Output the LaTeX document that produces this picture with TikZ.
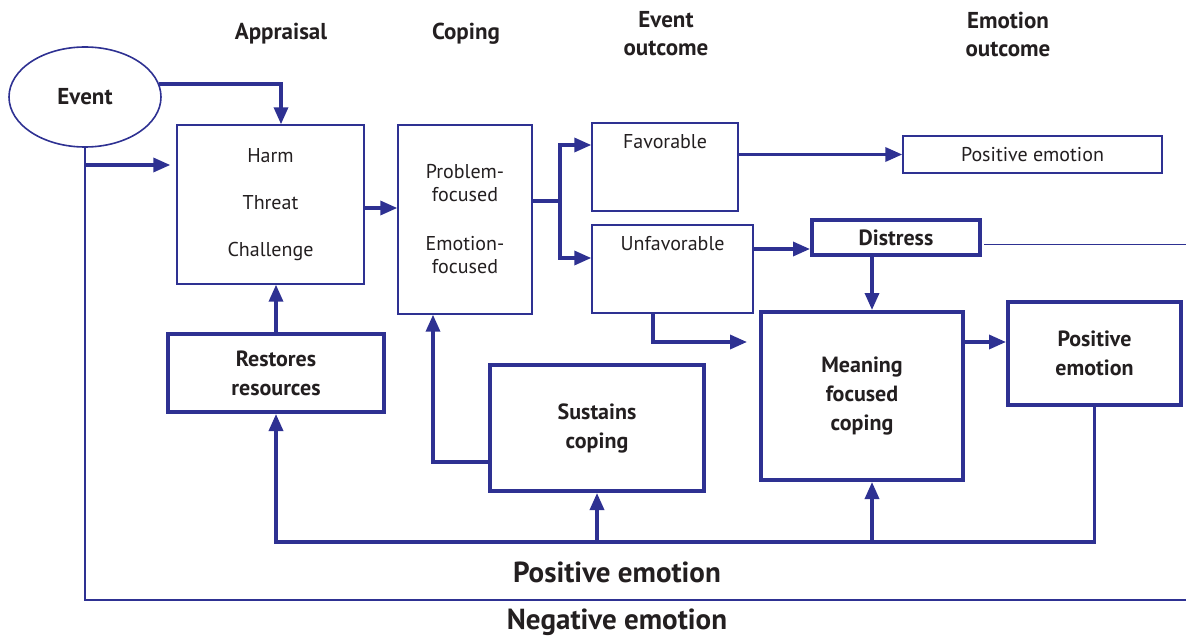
\documentclass[tikz,border=0pt]{standalone}
\usepackage{fontspec}
\setmainfont{PT Sans}
\usepackage{tikz}
\usetikzlibrary{arrows.meta,calc,shapes.geometric}
\definecolor{flowblue}{HTML}{2E3192}
\definecolor{ink}{HTML}{231F20}

\begin{document}
\begin{tikzpicture}[x=0.5pt,y=-0.5pt,>={Triangle[length=8.5pt,width=7pt]},
  line cap=butt,
  every node/.style={text=ink,inner sep=0pt},
  boxtext/.style={font=\fontsize{10}{11.5}\selectfont,align=center},
  thinbox/.style={boxtext,draw=flowblue,line width=0.7pt,fill=white},
  thickbox/.style={draw=flowblue,line width=2pt,fill=white,
    font=\bfseries\fontsize{11}{14.5}\selectfont,align=center},
  head/.style={font=\bfseries\fontsize{11.5}{14}\selectfont,align=center},
  arr/.style={->,draw=flowblue,line width=1.7pt},
  thinline/.style={draw=flowblue,line width=0.7pt}]
\useasboundingbox (0,0) rectangle (1186,636);

\node[head] (happr) at (281,34) {Appraisal};
\node[head] (hcope) at (466,34) {Coping};
\node[head] (hevent) at (666,34) {Event\\outcome};
\node[head] (hemo) at (1008,34) {Emotion\\outcome};

\node[ellipse,draw=flowblue,line width=0.8pt,minimum width=76pt,minimum height=50pt,
  font=\bfseries\fontsize{11.5}{12}\selectfont] (ev) at (85,97) {Event};

\node[thinbox,minimum width=93.5pt,minimum height=79.5pt,
  font=\fontsize{10}{23.5}\selectfont] (appr) at (270.5,204.5) {Harm\\Threat\\Challenge};
\node[thinbox,minimum width=67pt,minimum height=94.5pt] (cope) at (465,219.5)
  {Problem-\\focused\\[13pt]Emotion-\\focused};
\node[thinbox,minimum width=73pt,minimum height=44pt] (fav) at (665,167) {};
\node[boxtext,anchor=north] (favtxt) at ($(fav.north)+(0,12)$) {Favorable};
\node[thinbox,minimum width=80.5pt,minimum height=44pt] (unfav) at (672.5,269) {};
\node[boxtext,anchor=north] (unfavtxt) at ($(unfav.north)+(0,12)$) {Unfavorable};
\node[thinbox,minimum width=129.5pt,minimum height=18.5pt] (posbox) at (1032.5,154.5) {Positive emotion};

\node[thickbox,minimum width=84pt,minimum height=17.5pt] (dist) at (896,237.5) {Distress};
\node[thickbox,minimum width=101pt,minimum height=84pt] (mean) at (862,396) {Meaning\\focused\\coping};
\node[thickbox,minimum width=86.5pt,minimum height=51.5pt] (posemo) at (1094.5,353.5) {Positive\\emotion};
\node[thickbox,minimum width=108pt,minimum height=39pt] (rest) at (276,373) {Restores\\resources};
\node[thickbox,minimum width=107pt,minimum height=63pt] (sust) at (597,428) {Sustains\\coping};

\node[head,font=\bfseries\fontsize{14.5}{15}\selectfont] (lpos) at (617,572) {Positive emotion};
\node[head,font=\bfseries\fontsize{14.5}{15}\selectfont] (lneg) at (617,622) {Negative emotion};

\coordinate (evbr) at (85,165);
\coordinate (negend) at (1186,600);
\coordinate (split) at (560,201);
\coordinate (fb) at (0,542);
\coordinate (meanin) at ($(mean.south)+(10,0)$);

\draw[arr] (ev.10) -| ($(appr.north)+(10.5,0)$);
\draw[thinline] (ev.south) |- (negend);
\draw[arr,shorten >=3pt] (evbr) -- (evbr -| appr.west);
\draw[arr] (appr.east |- 0,208) -- (cope.west |- 0,208);
\draw[draw=flowblue,line width=1.7pt] (cope.east |- split) -- (split);
\draw[arr] (split) |- ($(fav.west)+(0,-22)$);
\draw[arr] (split) |- ($(unfav.west)+(0,-11)$);
\draw[arr] (fav.east |- posbox.west) -- (posbox.west);
\draw[arr] (unfav.east |- 0,249) -- ($(dist.west)+(0,11.5)$);
\draw[thinline] ($(dist.east)+(2,7)$) -- (1186,244.5);
\draw[arr] ($(dist.south)+(-24,0)$) -- ($(mean.north)+(10,0)$);
\draw[arr,shorten >=6pt] ($(unfav.south)+(-19.5,0)$) |- ($(mean.west)+(0,-54)$);
\draw[arr] ($(mean.east)+(0,-54)$) -- (posemo.west |- 0,342);
\draw[arr] (posemo.south) |- (rest.south |- fb) -- (rest.south);
\draw[arr] (sust.south |- fb) -- (sust.south);
\draw[arr] (meanin |- fb) -- (meanin);
\draw[arr] (rest.north) -- (appr.south -| rest.north);
\draw[arr] ($(sust.west)+(0,34)$) -| ($(cope.south)+(-32,0)$);
\end{tikzpicture}
\end{document}
